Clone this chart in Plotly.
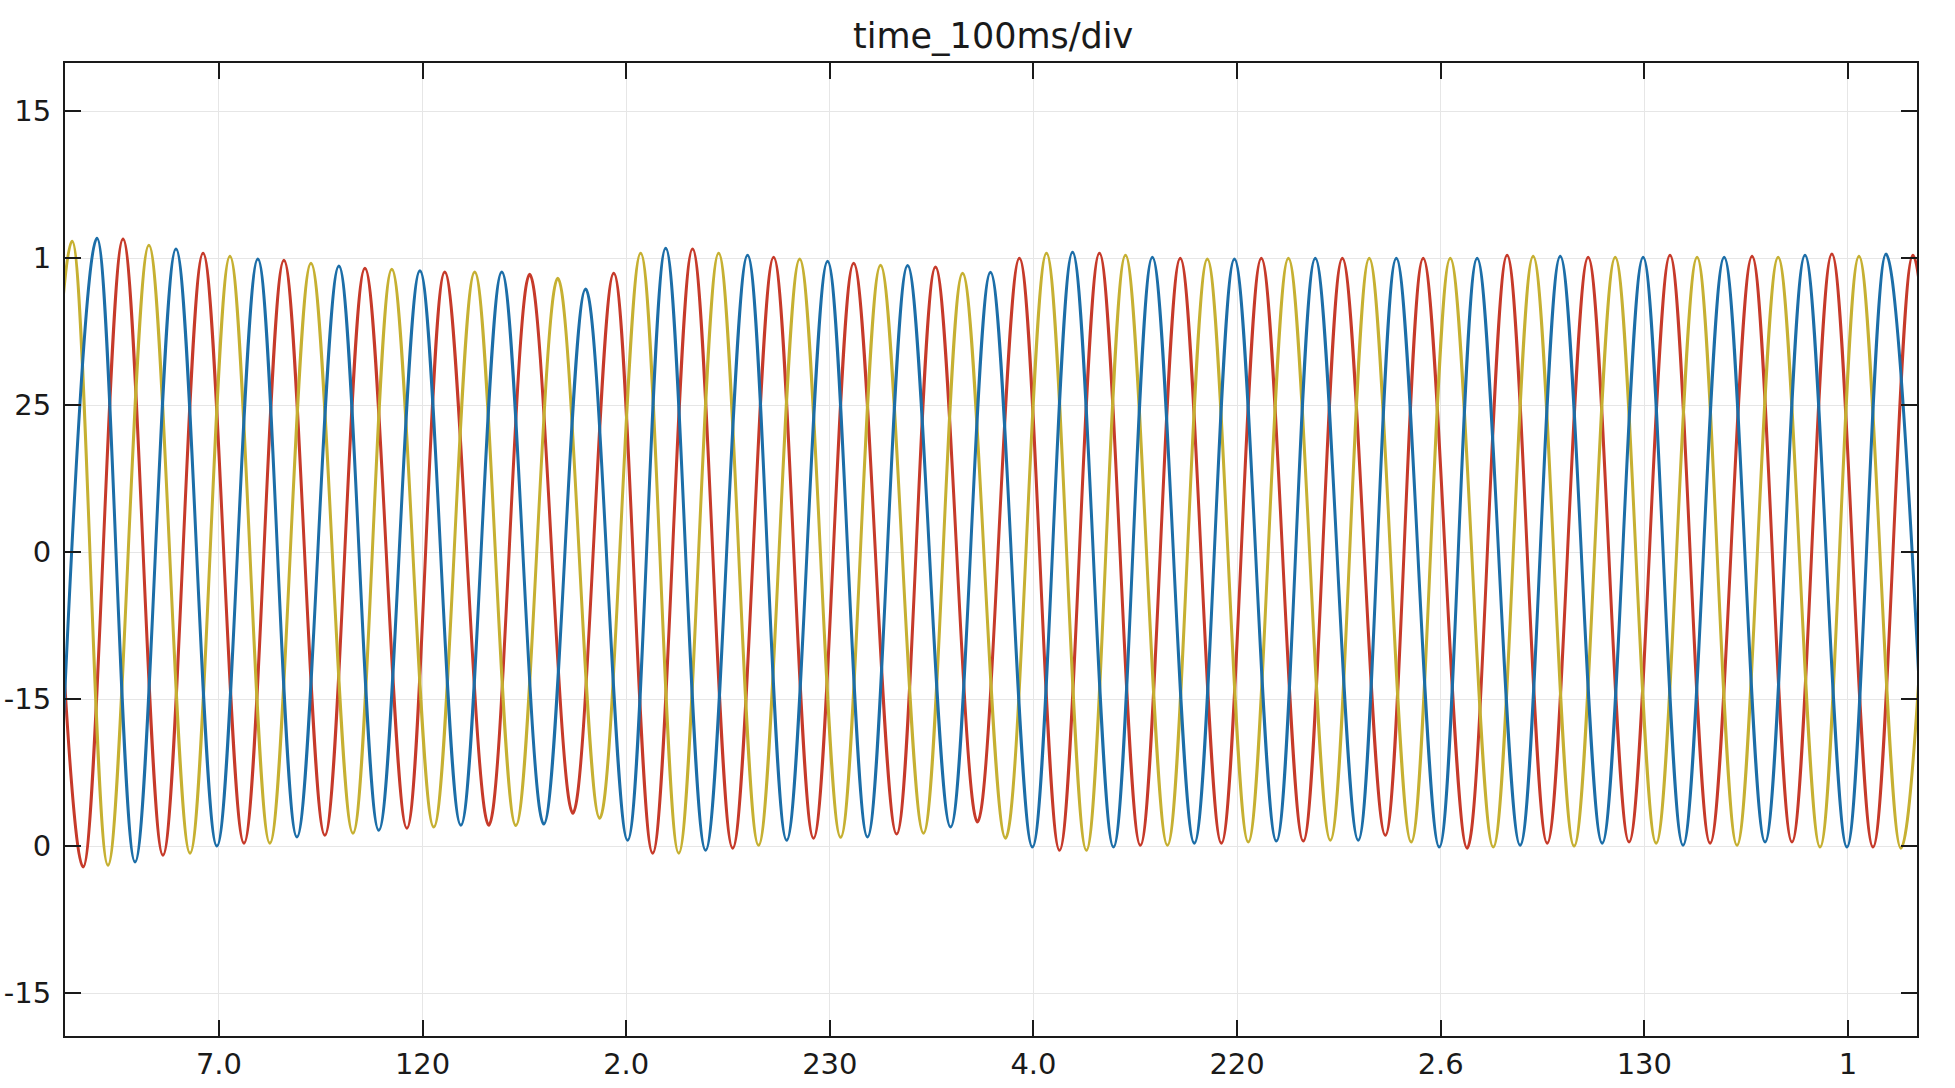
import plotly.graph_objects as go

# ---- data: extremes of each phase (time in ms, value in p.u.) ----
red_t = [13.6, 33.3, 52.9, 72.5, 92.2, 112.3, 131.9, 152.0, 171.7, 192.3, 210.9, 232.5,
         252.6, 273.8, 293.9, 313.0, 332.6, 352.3, 372.4, 392.0, 411.7, 432.8, 451.9, 472.5,
         493.1, 512.8, 532.4, 552.5, 572.1, 592.3, 611.9, 632.5, 651.7, 672.8, 691.4, 713.0,
         732.6, 752.3, 772.4, 792.5, 812.6, 832.3, 852.9, 872.5, 892.1, 912.3, 931.9, 951.5]
red_v = [1.06, -1.071, 1.065, -1.031, 1.017, -0.990, 0.993, -0.963, 0.966, -0.939, 0.953, -0.929,
         0.945, -0.888, 0.949, -1.024, 1.031, -1.007, 1.003, -0.973, 0.983, -0.959, 0.970, -0.918,
         1.000, -1.014, 1.017, -0.997, 1.000, -0.990, 1.000, -0.983, 1.000, -0.963, 1.000, -1.007,
         1.010, -0.990, 1.003, -0.986, 1.010, -0.990, 1.007, -0.986, 1.014, -1.003, 1.010, -1.0]

yel_t = [8.2, 27.9, 45.5, 65.6, 85.8, 105.4, 125.0, 145.2, 165.8, 184.9, 205.5, 225.6,
         245.8, 266.4, 287.0, 307.1, 325.8, 345.4, 365.0, 385.2, 405.3, 424.9, 446.0, 465.2,
         486.3, 506.4, 526.0, 545.2, 565.8, 585.4, 605.5, 625.2, 645.8, 664.9, 685.5, 704.7,
         725.8, 745.4, 765.5, 785.7, 805.8, 825.9, 845.5, 865.7, 886.3, 905.4, 926.0, 945.2]
yel_v = [-1.07, 1.058, -1.065, 1.044, -1.024, 1.007, -0.990, 0.983, -0.956, 0.962, -0.935, 0.953,
         -0.930, 0.932, -0.905, 1.017, -1.024, 1.017, -0.997, 0.997, -0.970, 0.976, -0.956, 0.949,
         -0.973, 1.017, -1.014, 1.010, -0.997, 0.997, -0.986, 1.000, -0.980, 1.000, -0.986, 1.000,
         -1.003, 1.007, -1.000, 1.003, -0.990, 1.003, -0.997, 1.003, -1.003, 1.007, -1.007, 1.0]

blu_t = [20.5, 40.1, 58.8, 78.9, 99.0, 119.1, 138.3, 158.9, 178.5, 198.7, 218.8, 238.9,
         259.5, 280.1, 300.7, 319.4, 339.0, 359.6, 378.8, 398.9, 418.5, 438.2, 459.3, 478.9,
         499.5, 519.2, 539.3, 558.4, 579.0, 598.7, 619.3, 638.4, 659.5, 678.2, 699.3, 717.9,
         739.0, 758.7, 779.3, 799.4, 819.0, 839.2, 859.3, 878.9, 899.5, 918.7, 938.8]
blu_v = [-1.07, 1.068, -1.054, 1.031, -1.000, 0.997, -0.969, 0.973, -0.946, 0.957, -0.929, 0.953,
         -0.925, 0.895, -0.980, 1.034, -1.014, 1.010, -0.980, 0.990, -0.969, 0.975, -0.935, 0.952,
         -1.003, 1.020, -1.003, 1.003, -0.990, 0.997, -0.983, 1.000, -0.980, 1.000, -1.003, 1.000,
         -0.997, 1.007, -0.990, 1.003, -0.997, 1.003, -0.986, 1.010, -1.003, 1.014, -1.0]

x_tickvals = [100, 200, 300, 400, 500, 600, 700, 800, 900]
x_ticktext = ["7.0", "120", "2.0", "230", "4.0", "220", "2.6", "130", "1"]
y_tickvals = [-1.5, -1.0, -0.5, 0.0, 0.5, 1.0, 1.5]
y_ticktext = ["-15", "0", "-15", "0", "25", "1", "15"]

series = [
    ("Phase A", red_t, red_v, "#c63a2a"),
    ("Phase B", yel_t, yel_v, "#c6b032"),
    ("Phase C", blu_t, blu_v, "#1c6ea8"),
]

fig = go.Figure()
for name, t, v, c in series:
    fig.add_trace(go.Scatter(x=t, y=v, mode="lines", name=name,
                             line=dict(color=c, width=3, shape="spline", smoothing=1.0),
                             hoverinfo="skip"))

axis_common = dict(
    showline=True, linecolor="#1a1a1a", linewidth=2, mirror="ticks",
    ticks="inside", ticklen=16, tickwidth=2, tickcolor="#1a1a1a",
    showgrid=True, gridcolor="#e6e6e6", gridwidth=1, zeroline=False,
    tickfont=dict(family="DejaVu Sans", size=29, color="#1a1a1a"),
    automargin=False,
)

fig.update_layout(
    width=1955, height=1088,
    margin=dict(l=65, r=38, t=63, b=52),
    paper_bgcolor="white", plot_bgcolor="white",
    showlegend=False,
    title=dict(text="time_100ms/div", x=0.508, xanchor="center", y=0.967, yanchor="middle",
               font=dict(family="DejaVu Sans", size=35, color="#1a1a1a")),
    xaxis=dict(range=[24.4, 933.9], tickvals=x_tickvals, ticktext=x_ticktext,
               ticklabelstandoff=1, **axis_common),
    yaxis=dict(range=[-1.646, 1.664], tickvals=y_tickvals, ticktext=y_ticktext,
               ticklabelstandoff=6, **axis_common),
)

fig.write_html("out.html")
